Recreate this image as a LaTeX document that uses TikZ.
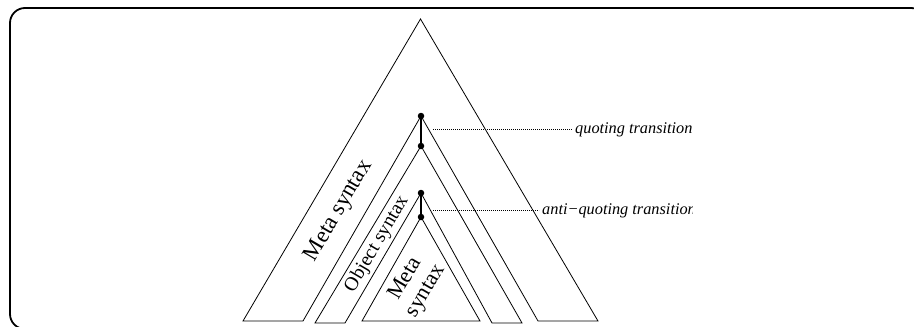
\documentclass[tikz,border=0pt]{standalone}
\usepackage{fontspec}
\setmainfont{Liberation Serif}
\begin{document}
\begin{tikzpicture}[x=1pt,y=-1pt,
  region/.style={draw=black, line width=0.8pt, line join=miter},
  dotnode/.style={circle, fill=black, inner sep=0pt, minimum size=6.5pt},
  link/.style={draw=black, line width=1.5pt},
  guide/.style={draw=black, line width=0.5pt, dash pattern=on 0.6pt off 1.4pt},
  translabel/.style={anchor=west, inner sep=3pt, font=\fontsize{16.3}{19}\selectfont\itshape},
  biglabel/.style={rotate=59.6, inner sep=0pt, align=center}]
\useasboundingbox (0,0) rectangle (914,327);
\begin{scope}
\clip (0,0) rectangle (914,327);
\draw[line width=1.8pt, rounded corners=15pt] (10,8) rectangle (926,329);
\end{scope}
% transition points
\node[dotnode] (q1) at (421,116) {};
\node[dotnode] (q2) at (421,146) {};
\node[dotnode] (a1) at (421,193) {};
\node[dotnode] (a2) at (421,217) {};
% regions
\draw[region] (243,321) -- (420.5,19) -- (598,321) -- (538,321) -- (q1.center) -- (303,321) -- cycle;
\draw[region] (315,323) -- (q2.center) -- (522,323) -- (492,323) -- (a1.center) -- (345,323) -- cycle;
\draw[region] (362,321) -- (a2.center) -- (480,321) -- cycle;
% links
\draw[link] (q1) -- (q2);
\draw[link] (a1) -- (a2);
% labels
\node[biglabel, font=\fontsize{23}{26}\selectfont] (meta) at (339,211) {Meta syntax};
\node[biglabel, font=\fontsize{19.6}{22}\selectfont] (obj) at (377,244) {Object syntax};
\node[biglabel, font=\fontsize{22}{24}\selectfont] (meta2) at (416,285) {Meta\\syntax};
\begin{scope}
\clip (0,0) rectangle (692,327);
\node[translabel] (qt) at (572,130) {quoting transition};
\node[translabel] (at) at (539,211) {anti\textminus quoting transition};
\end{scope}
\coordinate (qs) at (433,129);
\coordinate (as) at (433,210);
\draw[guide] (qs) -- (qs -| qt.west);
\draw[guide] (as) -- (as -| at.west);
\end{tikzpicture}
\end{document}
